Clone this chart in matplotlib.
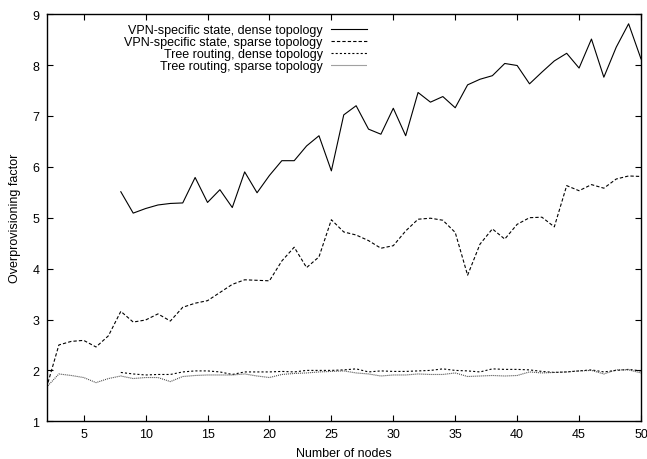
import matplotlib
matplotlib.use("Agg")
import matplotlib.pyplot as plt

plt.rcParams['font.family'] = ['Liberation Sans', 'DejaVu Sans']
plt.rcParams['lines.scale_dashes'] = False

# Data
nodes_dense = list(range(8, 51))
nodes_sparse = list(range(2, 51))

vpn_dense = [5.51, 5.09, 5.18, 5.25, 5.28, 5.29, 5.79, 5.30, 5.55, 5.20,
             5.90, 5.49, 5.83, 6.12, 6.12, 6.41, 6.61, 5.92, 7.02, 7.20,
             6.74, 6.64, 7.15, 6.61, 7.46, 7.27, 7.38, 7.16, 7.61, 7.72,
             7.79, 8.03, 7.99, 7.63, 7.86, 8.08, 8.23, 7.94, 8.51, 7.76,
             8.35, 8.81, 8.12]

vpn_sparse = [1.66, 2.50, 2.57, 2.59, 2.46, 2.68, 3.16, 2.95, 2.99, 3.11,
              2.97, 3.24, 3.32, 3.37, 3.53, 3.69, 3.78, 3.77, 3.76, 4.15,
              4.42, 4.02, 4.23, 4.96, 4.72, 4.66, 4.55, 4.40, 4.45, 4.74,
              4.97, 4.99, 4.95, 4.71, 3.87, 4.48, 4.78, 4.58, 4.87, 5.00,
              5.01, 4.82, 5.63, 5.53, 5.65, 5.58, 5.76, 5.82, 5.81]

tree_dense = [1.96, 1.93, 1.91, 1.92, 1.92, 1.97, 1.99, 1.99, 1.97, 1.92,
              1.97, 1.97, 1.97, 1.98, 1.97, 2.00, 2.00, 2.00, 2.01, 2.03,
              1.97, 1.99, 1.98, 1.98, 1.99, 2.00, 2.03, 2.00, 1.99, 1.97,
              2.03, 2.02, 2.02, 2.01, 1.98, 1.96, 1.97, 1.99, 2.01, 1.97,
              2.00, 2.02, 1.99]

tree_sparse = [1.67, 1.93, 1.90, 1.86, 1.76, 1.84, 1.89, 1.84, 1.86, 1.86,
               1.78, 1.88, 1.90, 1.91, 1.91, 1.91, 1.93, 1.89, 1.86, 1.92,
               1.94, 1.95, 1.97, 1.98, 1.99, 1.95, 1.93, 1.89, 1.91, 1.91,
               1.93, 1.92, 1.92, 1.95, 1.88, 1.89, 1.90, 1.89, 1.90, 1.97,
               1.95, 1.96, 1.97, 1.99, 2.00, 1.93, 2.01, 2.01, 1.95]

labels = ["VPN-specific state, dense topology",
          "VPN-specific state, sparse topology",
          "Tree routing, dense topology",
          "Tree routing, sparse topology"]

xticks = list(range(5, 51, 5))
yticks = list(range(1, 10))

fig = plt.figure(figsize=(6.47, 4.60), dpi=100)
ax = fig.add_axes([46.5 / 647, 1 - 422.3 / 460, (641 - 46.5) / 647, (422.3 - 15.1) / 460])

lw = 0.8
ax.plot(nodes_dense, vpn_dense, color='black', lw=lw, linestyle='-', label=labels[0])
ax.plot(nodes_sparse, vpn_sparse, color='black', lw=lw, linestyle=(0, (2.4, 1.5)), label=labels[1])
ax.plot(nodes_dense, tree_dense, color='black', lw=lw, linestyle=(0, (1.5, 1.5)), label=labels[2])
ax.plot(nodes_sparse, tree_sparse, color='#444444', lw=lw, linestyle=(0, (0.72, 0.72)), label=labels[3])

ax.set_xlim(2, 50)
ax.set_ylim(1, 9)
ax.set_xticks(xticks)
ax.set_yticks(yticks)
ax.tick_params(direction='in', length=4.5, width=0.8, top=True, right=True,
               labelsize=9, pad=5)
for sp in ax.spines.values():
    sp.set_linewidth(1.0)

ax.set_xlabel("Number of nodes", fontsize=9)
ax.set_ylabel("Overprovisioning factor", fontsize=9)
ax.xaxis.set_label_coords(0.5, -0.062)
ax.yaxis.set_label_coords(-0.043, 0.5)

leg = ax.legend(loc='upper right', bbox_to_anchor=(0.539, 0.975), frameon=False,
                markerfirst=False, fontsize=9, handlelength=2.9, handletextpad=0.65,
                labelspacing=0.0, borderpad=0, borderaxespad=0)

fig.savefig("out.png", dpi=100)
